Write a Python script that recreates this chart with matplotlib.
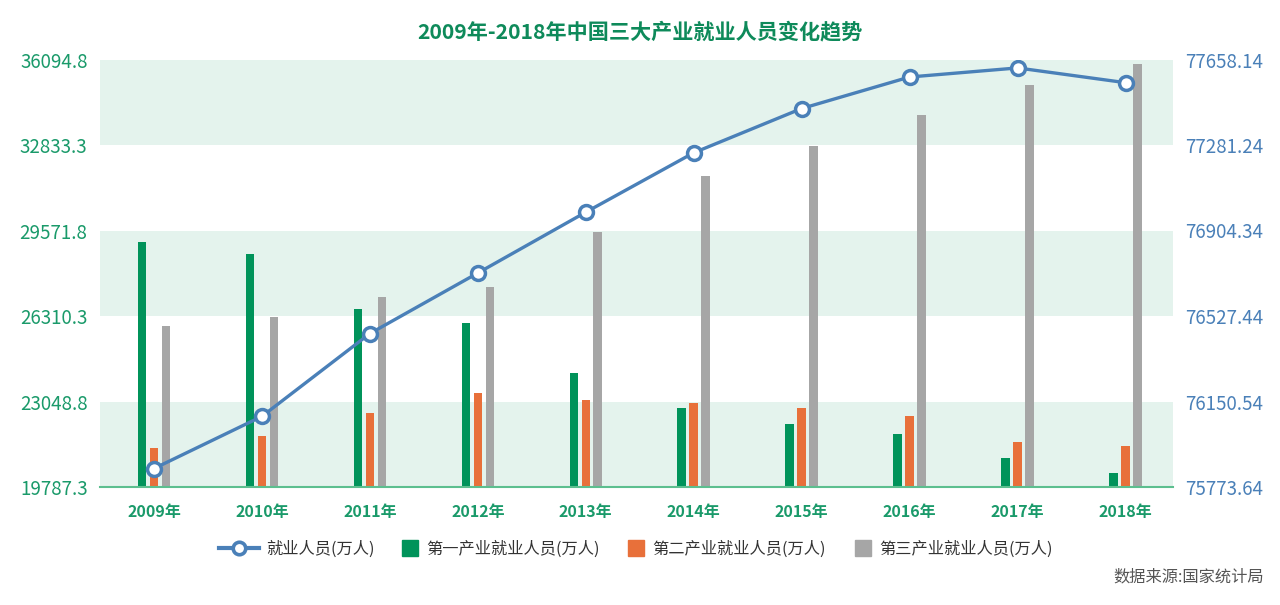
import matplotlib.pyplot as plt
from matplotlib.lines import Line2D
import numpy as np

plt.rcParams['font.family'] = ['Noto Sans CJK SC', 'DejaVu Sans']

# 数据 (万人)
years = ['2009年', '2010年', '2011年', '2012年', '2013年',
         '2014年', '2015年', '2016年', '2017年', '2018年']
total = [75855, 76085, 76450, 76717, 76985, 77247, 77442, 77581, 77621, 77556]
primary = [29122, 28680, 26569, 26035, 24130, 22785, 22202, 21795, 20907, 20320]
secondary = [21262, 21730, 22622, 23368, 23117, 22987, 22797, 22481, 21502, 21349]
tertiary = [25921, 26264, 27053, 27434, 29503, 31640, 32794, 33987, 35118, 35918]

left_ticks = [19787.3, 23048.8, 26310.3, 29571.8, 32833.3, 36094.8]
right_ticks = [75773.64, 76150.54, 76527.44, 76904.34, 77281.24, 77658.14]

green = '#00935a'
orange = '#e8703a'
gray = '#a6a6a6'
blue = '#4a80b8'
label_green = '#1a9a6a'
band = '#e4f3ed'

fig = plt.figure(figsize=(12.8, 6.05), dpi=100)
ax = fig.add_axes([100 / 1280, 1 - 487 / 605, 1073 / 1280, 427.5 / 605])
ax2 = ax.twinx()

x = np.arange(len(years))
w = 0.079
off = 0.111

# 背景条带
for i in range(0, len(left_ticks) - 1, 2):
    ax.axhspan(left_ticks[i], left_ticks[i + 1], color=band, zorder=0, lw=0)

ax.bar(x - off, primary, w, color=green, zorder=2)
ax.bar(x, secondary, w, color=orange, zorder=2)
ax.bar(x + off, tertiary, w, color=gray, zorder=2)

ax2.plot(x, total, color=blue, lw=2.4, marker='o', markersize=10,
         markerfacecolor='white', markeredgecolor=blue, markeredgewidth=2.5,
         zorder=3)

ax.set_xlim(-0.5, 9.44)
ax.set_ylim(left_ticks[0], left_ticks[-1])
ax2.set_ylim(right_ticks[0], right_ticks[-1])

ax.set_yticks(left_ticks)
ax.set_yticklabels([f'{t:.1f}' for t in left_ticks])
ax2.set_yticks(right_ticks)
ax2.set_yticklabels([f'{t:.2f}' for t in right_ticks])
ax.set_xticks(x)
ax.set_xticklabels(years)

ax.tick_params(axis='y', length=0, pad=9, labelsize=13.5, labelcolor=label_green)
ax2.tick_params(axis='y', length=0, pad=9, labelsize=13.5, labelcolor=blue)
ax.tick_params(axis='x', length=0, pad=12, labelsize=11.5, labelcolor=label_green)
for lb in ax.get_xticklabels():
    lb.set_fontweight('bold')

for a in (ax, ax2):
    for s in ['top', 'left', 'right']:
        a.spines[s].set_visible(False)
ax.spines['bottom'].set_color('#5cbf8f')
ax.spines['bottom'].set_linewidth(1.5)
ax2.spines['bottom'].set_visible(False)

fig.text(640 / 1280, 1 - 32 / 605, '2009年-2018年中国三大产业就业人员变化趋势',
         ha='center', va='center', fontsize=15.2, fontweight='bold', color='#0e8a5a')

# 图例
line_handle = Line2D([0], [0], color=blue, lw=3, marker='o', markersize=9,
                     markerfacecolor='white', markeredgecolor=blue, markeredgewidth=2.6)
leg1 = fig.legend([line_handle], ['就业人员(万人)'], loc='center left',
                  bbox_to_anchor=(219 / 1280, 1 - 549 / 605), frameon=False,
                  fontsize=11.7, handlelength=2.45, handletextpad=0.45,
                  borderpad=0, borderaxespad=0)
bar_handles = [Line2D([0], [0], color=c, marker='s', ls='none', markersize=11)
               for c in (green, orange, gray)]
bar_labels = ['第一产业就业人员(万人)', '第二产业就业人员(万人)', '第三产业就业人员(万人)']
leg2 = fig.legend(bar_handles, bar_labels, loc='center left',
                  bbox_to_anchor=(402 / 1280, 1 - 549 / 605), ncol=3, frameon=False,
                  fontsize=11.7, handlelength=1.0, handletextpad=0.5,
                  columnspacing=1.75, borderpad=0, borderaxespad=0)
for leg in (leg1, leg2):
    for t in leg.get_texts():
        t.set_color('#333333')

fig.text(1264 / 1280, 1 - 577 / 605, '数据来源:国家统计局', ha='right', va='center',
         fontsize=11.7, color='#555555')

fig.savefig('out.png', dpi=100)
